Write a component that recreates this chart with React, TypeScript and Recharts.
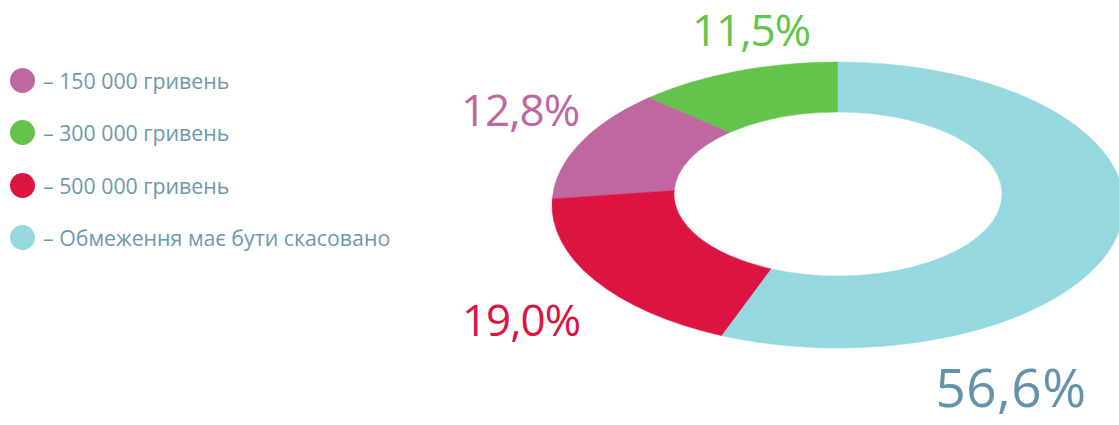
import React from 'react';
import { PieChart, Pie, Legend } from 'recharts';

const categories = ['– 300 000 гривень', '– 150 000 гривень', '– 500 000 гривень', '– Обмеження має бути скасовано'];
const shares = [11.5, 12.8, 19.0, 56.6];
const shareLabels = ['11,5%', '12,8%', '19,0%', '56,6%'];
const colors = ['#63c34a', '#c066a0', '#dc1442', '#96d8e0'];
const labelColors = ['#63c34a', '#c066a0', '#dc1442', '#6492ab'];
// legend lists the options in a different order than the ring
const legendOrder = [1, 0, 2, 3];

const data = categories.map((name, i) => ({ name, value: shares[i], label: shareLabels[i], fill: colors[i] }));

// ring geometry: horizontally stretched, hole sits a bit higher than the outer edge
const CX = 838;
const CY = 205;
const OUTER = 143;
const INNER = 82;
const SX = 2;
const HOLE_DY = -11;

// where each percentage sits (center x, baseline y, font size, spacing)
const labelLayout = [
  { x: 751, y: 46, size: 44, ls: -1 },
  { x: 520, y: 126, size: 44, ls: -1 },
  { x: 521, y: 336, size: 44, ls: -1 },
  { x: 1011, y: 407, size: 53, ls: 0.5 },
];

const RAD = Math.PI / 180;

const EllipseSector = (props: any) => {
  const { startAngle, endAngle, index } = props;
  const fill = props.fill || colors[index];
  const pt = (r: number, a: number, dy: number) => [CX + r * SX * Math.cos(a * RAD), CY + dy - r * Math.sin(a * RAD)];
  const large = Math.abs(endAngle - startAngle) > 180 ? 1 : 0;
  const o1 = pt(OUTER, startAngle, 0);
  const o2 = pt(OUTER, endAngle, 0);
  const i1 = pt(INNER, startAngle, HOLE_DY);
  const i2 = pt(INNER, endAngle, HOLE_DY);
  const d = [
    `M ${o1[0]} ${o1[1]}`,
    `A ${OUTER * SX} ${OUTER} 0 ${large} 0 ${o2[0]} ${o2[1]}`,
    `L ${i2[0]} ${i2[1]}`,
    `A ${INNER * SX} ${INNER} 0 ${large} 1 ${i1[0]} ${i1[1]}`,
    'Z',
  ].join(' ');
  return <path d={d} fill={fill} stroke={fill} strokeWidth={0.5} />;
};

const renderLabel = (props: any) => {
  const { index } = props;
  const pos = labelLayout[index];
  return (
    <text
      x={pos.x}
      y={pos.y}
      textAnchor="middle"
      fill={labelColors[index]}
      fontSize={pos.size}
      fontFamily="'Open Sans', sans-serif"
      letterSpacing={pos.ls}
    >
      {data[index].label}
    </text>
  );
};

const LegendContent = () => (
  <div>
    {legendOrder.map((idx) => (
      <div key={idx} style={{ display: 'flex', alignItems: 'center', height: 52.5 }}>
        <span style={{ width: 25, height: 25, borderRadius: '50%', background: colors[idx], display: 'inline-block', marginRight: 8, flexShrink: 0 }} />
        <span style={{ color: '#6d98ae', fontSize: 21.3, fontFamily: "'Open Sans', sans-serif", whiteSpace: 'nowrap' }}>
          {categories[idx]}
        </span>
      </div>
    ))}
  </div>
);

export default function App() {
  return (
    <div style={{ position: 'absolute', left: 0, top: 0, width: 1119, height: 425, background: '#ffffff', overflow: 'hidden' }}>
      <PieChart width={1119} height={425}>
        <Pie
          data={data}
          dataKey="value"
          nameKey="name"
          cx={CX}
          cy={CY}
          outerRadius={OUTER}
          innerRadius={INNER}
          startAngle={90}
          endAngle={450}
          stroke="none"
          shape={EllipseSector}
          label={renderLabel}
          labelLine={false}
          isAnimationActive={false}
        />
        <Legend
          layout="vertical"
          align="left"
          verticalAlign="top"
          content={LegendContent}
          wrapperStyle={{ left: 10, top: 54, width: 420 }}
        />
      </PieChart>
    </div>
  );
}
